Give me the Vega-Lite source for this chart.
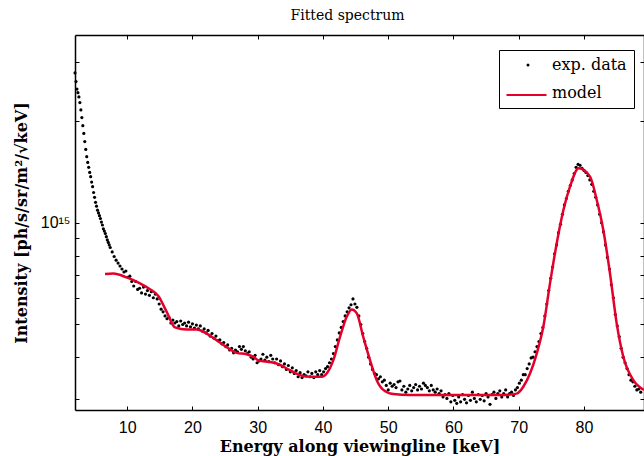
{
 "$schema": "https://vega.github.io/schema/vega-lite/v6.json",
 "width": 569, "height": 375,
 "autosize": {"type": "none"},
 "padding": {"left": 75, "top": 35, "right": 0, "bottom": 46},
 "background": "white",
 "title": {"text": "Fitted spectrum", "font": "DejaVu Serif", "fontSize": 14, "fontWeight": "normal", "offset": 12, "dx": -12, "color": "black"},
 "config": {"view": {"stroke": null}, "axis": {"grid": false, "domainColor": "black", "tickColor": "black", "labelColor": "black", "titleColor": "black", "labelFont": "Liberation Sans", "labelFontSize": 16, "titleFont": "DejaVu Serif", "titleFontSize": 16, "titleFontWeight": "bold", "domainWidth": 1.5, "tickWidth": 1, "tickSize": -4}},
 "datasets": {
  "exp": [
   {"e":2.0,"i":27.8e14},{"e":2.15,"i":26.2e14},{"e":2.3,"i":24.9e14},{"e":2.45,"i":24.3e14},{"e":2.6,"i":23.6e14},{"e":2.75,"i":22.7e14},{"e":2.9,"i":21.6e14},{"e":3.05,"i":20.5e14},{"e":3.2,"i":19.4e14},{"e":3.35,"i":18.4e14},{"e":3.5,"i":17.4e14},{"e":3.65,"i":16.5e14},{"e":3.8,"i":15.7e14},{"e":3.95,"i":15.1e14},{"e":4.1,"i":14.6e14},{"e":4.25,"i":14.1e14},{"e":4.4,"i":13.7e14},{"e":4.55,"i":13.2e14},{"e":4.7,"i":12.8e14},{"e":4.85,"i":12.3e14},{"e":5.0,"i":11.9e14},{"e":5.15,"i":11.5e14},{"e":5.3,"i":11.2e14},{"e":5.45,"i":10.9e14},{"e":5.6,"i":10.7e14},{"e":5.75,"i":10.5e14},{"e":5.9,"i":10.3e14},{"e":6.05,"i":10.05e14},{"e":6.2,"i":9.85e14},{"e":6.35,"i":9.6e14},{"e":6.5,"i":9.45e14},{"e":6.65,"i":9.3e14},{"e":6.8,"i":9.1e14},{"e":6.95,"i":8.9e14},{"e":7.1,"i":8.75e14},{"e":7.25,"i":8.6e14},{"e":7.4,"i":8.45e14},
   {"e":7.7,"i":8.2e14},{"e":8.0,"i":7.95e14},{"e":8.3,"i":7.75e14},{"e":8.6,"i":7.6e14},{"e":8.9,"i":7.45e14},{"e":9.2,"i":7.3e14},{"e":9.5,"i":7.15e14},{"e":9.8,"i":7.2e14},{"e":10.1,"i":6.9e14},{"e":10.4,"i":6.95e14},{"e":10.7,"i":6.7e14},{"e":11.0,"i":6.5e14},{"e":11.3,"i":6.7e14},{"e":11.6,"i":6.35e14},{"e":11.9,"i":6.4e14},{"e":12.2,"i":6.2e14},{"e":12.5,"i":6.45e14},{"e":12.8,"i":6.15e14},{"e":13.1,"i":6.3e14},{"e":13.4,"i":6.1e14},{"e":13.7,"i":6.25e14},{"e":14.0,"i":6.0e14},{"e":14.3,"i":6.15e14},{"e":14.6,"i":5.95e14},{"e":14.9,"i":5.75e14},{"e":15.2,"i":5.55e14},{"e":15.5,"i":5.45e14},{"e":15.8,"i":5.3e14},{"e":16.1,"i":5.2e14},{"e":16.4,"i":5.25e14},{"e":16.7,"i":5.05e14},{"e":17.0,"i":5.15e14},{"e":17.3,"i":5.05e14},{"e":17.6,"i":5.1e14},{"e":17.9,"i":4.95e14},{"e":18.2,"i":5.12e14},{"e":18.5,"i":5.0e14},{"e":18.8,"i":5.05e14},{"e":19.1,"i":4.95e14},{"e":19.4,"i":5.08e14},{"e":19.7,"i":4.92e14},{"e":20.0,"i":5.02e14},{"e":20.3,"i":4.88e14},{"e":20.6,"i":4.98e14},{"e":20.9,"i":4.85e14},{"e":21.2,"i":4.95e14},{"e":21.5,"i":4.78e14},{"e":21.8,"i":4.85e14},{"e":22.1,"i":4.72e14},{"e":22.4,"i":4.8e14},{"e":22.7,"i":4.62e14},{"e":23.0,"i":4.7e14},{"e":23.3,"i":4.55e14},{"e":23.6,"i":4.62e14},{"e":23.9,"i":4.48e14},{"e":24.2,"i":4.5e14},{"e":24.5,"i":4.38e14},{"e":24.8,"i":4.42e14},{"e":25.1,"i":4.3e14},{"e":25.4,"i":4.35e14},{"e":25.7,"i":4.2e14},{"e":26.0,"i":4.25e14},{"e":26.3,"i":4.12e14},{"e":26.6,"i":4.2e14},{"e":26.9,"i":4.15e14},{"e":27.2,"i":4.3e14},{"e":27.5,"i":4.22e14},{"e":27.8,"i":4.3e14},{"e":28.1,"i":4.18e14},{"e":28.4,"i":4.1e14},{"e":28.7,"i":4.15e14},{"e":29.0,"i":4.0e14},{"e":29.3,"i":3.95e14},{"e":29.6,"i":4.05e14},{"e":29.9,"i":3.85e14},{"e":30.2,"i":3.9e14},{"e":30.5,"i":3.95e14},{"e":30.8,"i":4.08e14},{"e":31.1,"i":3.92e14},{"e":31.4,"i":4.0e14},{"e":31.7,"i":3.88e14},{"e":32.0,"i":4.05e14},{"e":32.3,"i":3.95e14},{"e":32.6,"i":3.85e14},{"e":32.9,"i":3.95e14},{"e":33.2,"i":3.8e14},{"e":33.5,"i":3.9e14},{"e":33.8,"i":3.75e14},{"e":34.1,"i":3.82e14},{"e":34.4,"i":3.68e14},{"e":34.7,"i":3.78e14},{"e":35.0,"i":3.62e14},{"e":35.3,"i":3.72e14},{"e":35.6,"i":3.58e14},{"e":35.9,"i":3.65e14},{"e":36.2,"i":3.5e14},{"e":36.5,"i":3.6e14},{"e":36.8,"i":3.48e14},{"e":37.1,"i":3.55e14},{"e":37.4,"i":3.52e14},{"e":37.7,"i":3.62e14},{"e":38.0,"i":3.5e14},{"e":38.3,"i":3.58e14},{"e":38.6,"i":3.48e14},{"e":38.9,"i":3.62e14},{"e":39.2,"i":3.55e14},{"e":39.5,"i":3.65e14},{"e":39.8,"i":3.55e14},{"e":40.1,"i":3.62e14},{"e":40.4,"i":3.7e14},{"e":40.7,"i":3.75e14},{"e":41.0,"i":3.85e14},{"e":41.3,"i":3.95e14},{"e":41.6,"i":4.1e14},{"e":41.9,"i":4.3e14},{"e":42.2,"i":4.5e14},{"e":42.5,"i":4.72e14},{"e":42.8,"i":4.9e14},{"e":43.1,"i":5.1e14},{"e":43.4,"i":5.3e14},{"e":43.7,"i":5.45e14},{"e":44.0,"i":5.6e14},{"e":44.3,"i":5.72e14},{"e":44.6,"i":5.95e14},{"e":44.9,"i":5.75e14},{"e":45.2,"i":5.62e14},{"e":45.5,"i":5.3e14},{"e":45.8,"i":5.0e14},{"e":46.1,"i":4.7e14},{"e":46.4,"i":4.45e14},{"e":46.7,"i":4.25e14},{"e":47.0,"i":4.0e14},{"e":47.3,"i":3.82e14},{"e":47.6,"i":3.68e14},{"e":47.9,"i":3.58e14},{"e":48.2,"i":3.55e14},{"e":48.5,"i":3.45e14},{"e":48.8,"i":3.5e14},{"e":49.1,"i":3.38e14},{"e":49.4,"i":3.42e14},{"e":49.7,"i":3.3e14},{"e":50.0,"i":3.2e14},{"e":50.3,"i":3.35e14},{"e":50.6,"i":3.28e14},{"e":50.9,"i":3.32e14},{"e":51.2,"i":3.25e14},{"e":51.5,"i":3.38e14},{"e":51.8,"i":3.4e14},{"e":52.1,"i":3.2e14},{"e":52.4,"i":3.28e14},{"e":52.7,"i":3.15e14},{"e":53.0,"i":3.22e14},{"e":53.3,"i":3.3e14},{"e":53.6,"i":3.18e14},{"e":53.9,"i":3.25e14},{"e":54.2,"i":3.32e14},{"e":54.5,"i":3.2e14},{"e":54.8,"i":3.28e14},{"e":55.1,"i":3.22e14},{"e":55.4,"i":3.35e14},{"e":55.7,"i":3.3e14},{"e":56.0,"i":3.25e14},{"e":56.3,"i":3.18e14},{"e":56.6,"i":3.3e14},{"e":56.9,"i":3.2e14},{"e":57.2,"i":3.15e14},{"e":57.5,"i":3.22e14},{"e":57.8,"i":3.12e14},{"e":58.1,"i":3.18e14},{"e":58.4,"i":3.05e14},{"e":58.7,"i":3.1e14},{"e":59.0,"i":3.02e14},{"e":59.3,"i":3.12e14},{"e":59.6,"i":2.95e14},{"e":59.9,"i":3.08e14},{"e":60.2,"i":2.98e14},{"e":60.5,"i":2.92e14},{"e":60.8,"i":3.05e14},{"e":61.1,"i":2.95e14},{"e":61.4,"i":3.1e14},{"e":61.7,"i":3.0e14},{"e":62.0,"i":2.93e14},{"e":62.3,"i":3.08e14},{"e":62.6,"i":2.98e14},{"e":62.9,"i":3.15e14},{"e":63.2,"i":3.02e14},{"e":63.5,"i":2.95e14},{"e":63.8,"i":3.1e14},{"e":64.1,"i":3.0e14},{"e":64.4,"i":3.08e14},{"e":64.7,"i":2.97e14},{"e":65.0,"i":3.12e14},{"e":65.3,"i":3.05e14},{"e":65.6,"i":2.9e14},{"e":65.9,"i":3.1e14},{"e":66.2,"i":3.15e14},{"e":66.5,"i":3.02e14},{"e":66.8,"i":3.12e14},{"e":67.1,"i":3.18e14},{"e":67.4,"i":3.05e14},{"e":67.7,"i":3.12e14},{"e":68.0,"i":3.2e14},{"e":68.3,"i":3.05e14},{"e":68.6,"i":3.12e14},{"e":68.9,"i":3.15e14},{"e":69.2,"i":3.08e14},{"e":69.5,"i":3.2e14},{"e":69.8,"i":3.25e14},{"e":70.1,"i":3.35e14},{"e":70.4,"i":3.42e14},{"e":70.7,"i":3.55e14},{"e":71.0,"i":3.55e14},{"e":71.3,"i":3.7e14},{"e":71.6,"i":3.82e14},{"e":71.9,"i":3.98e14},
   {"e":72.2,"i":4.0e14},{"e":72.5,"i":4.15e14},{"e":72.8,"i":4.3e14},{"e":73.1,"i":4.45e14},{"e":73.4,"i":4.7e14},{"e":73.7,"i":4.9e14},{"e":74.0,"i":5.3e14},{"e":74.3,"i":5.75e14},{"e":74.6,"i":6.3e14},{"e":74.9,"i":6.85e14},{"e":75.2,"i":7.4e14},{"e":75.5,"i":8.1e14},{"e":75.8,"i":8.6e14},{"e":76.1,"i":9.35e14},{"e":76.4,"i":9.9e14},{"e":76.7,"i":10.6e14},{"e":77.0,"i":11.3e14},{"e":77.3,"i":11.8e14},{"e":77.6,"i":12.4e14},{"e":77.9,"i":12.9e14},{"e":78.2,"i":13.4e14},{"e":78.5,"i":14.0e14},{"e":78.8,"i":14.6e14},{"e":79.1,"i":14.9e14},{"e":79.4,"i":14.8e14},{"e":79.7,"i":14.5e14},{"e":80.0,"i":14.3e14},{"e":80.3,"i":14.1e14},{"e":80.6,"i":13.8e14},{"e":80.9,"i":13.4e14},{"e":81.2,"i":13.0e14},{"e":81.5,"i":12.4e14},{"e":81.8,"i":11.9e14},{"e":82.1,"i":11.3e14},{"e":82.4,"i":10.6e14},{"e":82.7,"i":10.0e14},{"e":83.0,"i":9.4e14},{"e":83.3,"i":8.6e14},{"e":83.6,"i":7.9e14},{"e":83.9,"i":7.3e14},{"e":84.2,"i":6.55e14},{"e":84.5,"i":6.0e14},{"e":84.8,"i":5.35e14},{"e":85.1,"i":4.95e14},{"e":85.4,"i":4.6e14},{"e":85.7,"i":4.25e14},{"e":86.0,"i":4.0e14},{"e":86.3,"i":3.85e14},{"e":86.6,"i":3.7e14},{"e":86.9,"i":3.55e14},{"e":87.2,"i":3.42e14},{"e":87.5,"i":3.38e14},{"e":87.8,"i":3.28e14},{"e":88.1,"i":3.2e14},{"e":88.4,"i":3.22e14},{"e":88.7,"i":3.15e14}
  ],
  "model": [
   {"e":6.6,"i":7.05e14},{"e":7.87,"i":7.08e14},{"e":9.92,"i":6.89e14},{"e":11.96,"i":6.62e14},{"e":13.49,"i":6.36e14},{"e":14.77,"i":6.07e14},{"e":16.05,"i":5.45e14},{"e":17.33,"i":4.9e14},{"e":19.12,"i":4.83e14},{"e":20.65,"i":4.83e14},{"e":22.18,"i":4.7e14},{"e":23.72,"i":4.49e14},{"e":25.25,"i":4.28e14},{"e":26.78,"i":4.12e14},{"e":28.31,"i":4.08e14},{"e":29.33,"i":4.01e14},{"e":30.24,"i":3.9e14},{"e":31.89,"i":3.87e14},{"e":32.91,"i":3.83e14},{"e":34.95,"i":3.66e14},{"e":36.48,"i":3.54e14},{"e":38.02,"i":3.5e14},{"e":39.81,"i":3.5e14},{"e":40.57,"i":3.58e14},{"e":41.59,"i":3.92e14},{"e":42.61,"i":4.59e14},{"e":43.64,"i":5.27e14},{"e":44.41,"i":5.54e14},{"e":45.17,"i":5.4e14},{"e":46.18,"i":4.59e14},{"e":47.21,"i":3.92e14},{"e":48.24,"i":3.42e14},{"e":49.25,"i":3.2e14},{"e":50.78,"i":3.11e14},{"e":53.34,"i":3.09e14},{"e":60.0,"i":3.09e14},{"e":67.13,"i":3.09e14},{"e":69.69,"i":3.12e14},{"e":70.7,"i":3.27e14},{"e":71.73,"i":3.58e14},{"e":72.76,"i":4.1e14},{"e":73.77,"i":4.92e14},{"e":74.8,"i":6.63e14},{"e":75.82,"i":8.69e14},{"e":76.84,"i":10.9e14},{"e":77.86,"i":12.8e14},{"e":79.2,"i":14.5e14},{"e":80.93,"i":13.7e14},{"e":81.95,"i":11.7e14},{"e":82.97,"i":9.51e14},{"e":83.99,"i":7.08e14},{"e":85.02,"i":5.03e14},{"e":86.03,"i":4.01e14},{"e":87.56,"i":3.42e14},{"e":89.2,"i":3.2e14}
  ]
 },
 "layer": [
  {
   "data": {"name": "exp"},
   "mark": {"type": "point", "filled": true, "size": 10, "opacity": 1},
   "encoding": {
    "x": {"field": "e", "type": "quantitative", "scale": {"domain": [2.0, 89.2], "nice": false, "zero": false},
          "axis": {"orient": "bottom", "values": [10,20,30,40,50,60,70,80], "title": "Energy along viewingline [keV]", "labelPadding": 13, "titlePadding": 3}},
    "y": {"field": "i", "type": "quantitative", "scale": {"type": "log", "domain": [2.79e14, 3.6e15], "nice": false},
          "axis": {"orient": "left", "values": [3e14,4e14,5e14,6e14,7e14,8e14,9e14,1e15,2e15,3e15], "labelExpr": "datum.value == 1e15 ? '10¹⁵' : ''", "labelPadding": 9, "title": "Intensity [ph/s/sr/m²/√keV]", "titlePadding": 11}},
    "color": {"datum": "exp. data", "type": "nominal",
              "scale": {"domain": ["exp. data", "model"], "range": ["black", "transparent"]},
              "legend": {"title": null, "orient": "none", "legendX": 424, "legendY": 15, "strokeColor": "black", "padding": 7, "labelFont": "DejaVu Serif", "labelFontSize": 16, "labelColor": "black", "symbolType": "circle", "symbolSize": 9, "symbolOpacity": 1, "symbolStrokeWidth": 0, "symbolOffset": 14, "labelOffset": 16, "rowPadding": 12, "cornerRadius": 0}}
   }
  },
  {
   "data": {"name": "model"},
   "mark": {"type": "line", "strokeWidth": 2.5, "interpolate": "monotone"},
   "encoding": {
    "x": {"field": "e", "type": "quantitative", "axis": {"orient": "top", "values": [10,20,30,40,50,60,70,80], "labels": false, "title": null}},
    "y": {"field": "i", "type": "quantitative", "axis": {"orient": "right", "values": [3e14,4e14,5e14,6e14,7e14,8e14,9e14,1e15,2e15,3e15], "labels": false, "title": null}},
    "stroke": {"datum": "model", "type": "nominal",
              "scale": {"domain": ["model"], "range": ["#e4002b"]},
              "legend": {"title": null, "orient": "none", "legendX": 430, "legendY": 38.5, "padding": 0, "labelExpr": "''", "labelFontSize": 15, "symbolType": "stroke", "symbolSize": 1600, "symbolStrokeWidth": 2.2, "symbolOpacity": 1, "symbolOffset": 0}}
   }
  }
 ],
 "resolve": {"axis": {"x": "independent", "y": "independent"}}
}
